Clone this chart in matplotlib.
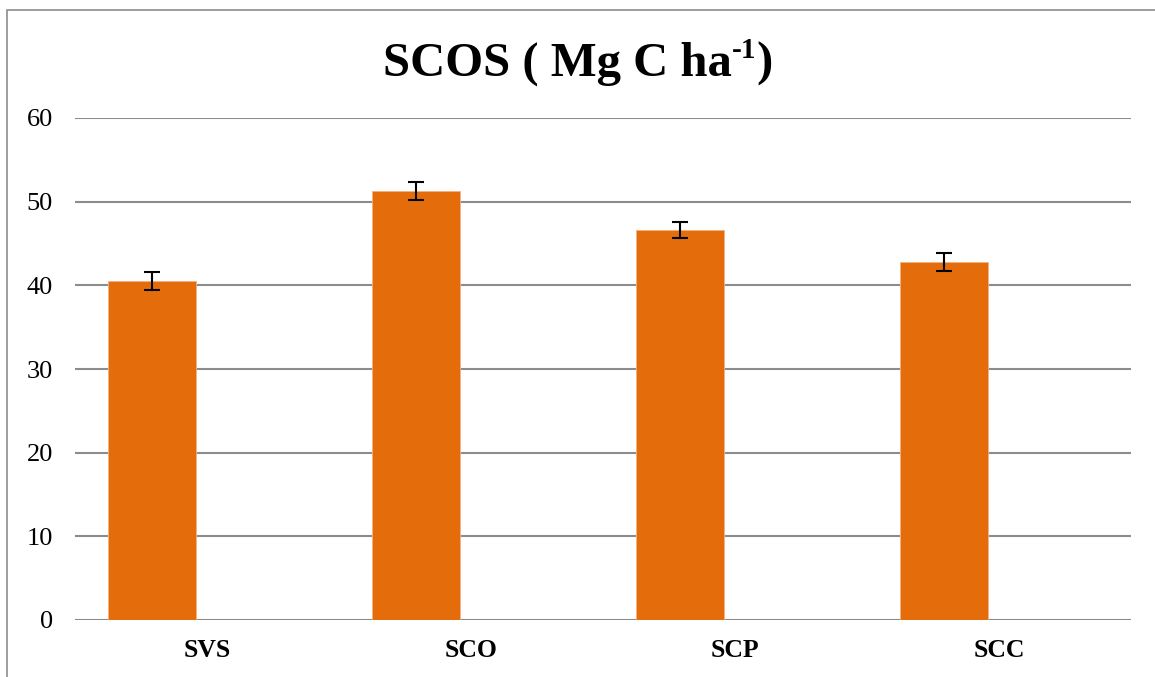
import numpy as np
import matplotlib
matplotlib.use("Agg")
import matplotlib.pyplot as plt
from matplotlib.patches import Rectangle

categories = ["SVS", "SCO", "SCP", "SCC"]
scos = [40.5, 51.3, 46.6, 42.8]
scos_err = [1.05, 1.05, 1.0, 1.05]
yticks = [0, 10, 20, 30, 40, 50, 60]

plt.rcParams['font.family'] = ['Liberation Serif', 'DejaVu Serif']

fig = plt.figure(figsize=(11.55, 6.77), dpi=100)
W, H = 1155, 677
ax = fig.add_axes([75 / W, 1 - 620 / H, (1131 - 75) / W, (620 - 118) / H])

# chart border (only left/top visible in the cropped screenshot)
fig.patches.append(Rectangle((7 / W, -0.1), 1.2, 1 - 10 / H + 0.1, transform=fig.transFigure,
                             fill=False, edgecolor="#8c8c8c", linewidth=1.2))

x = np.arange(len(categories))
ax.bar(x - 0.208, scos, width=0.333, color="#E46C0A", edgecolor="#F4B183", linewidth=0.6,
       yerr=scos_err, error_kw=dict(ecolor="black", elinewidth=1.5, capsize=6, capthick=1.5),
       zorder=3)

ax.set_xlim(-0.5, len(categories) - 0.5)
ax.set_ylim(0, 60)
ax.set_yticks(yticks)
ax.set_yticklabels([str(v) for v in yticks], fontsize=19)
ax.set_xticks(x)
ax.set_xticklabels(categories, fontsize=18.5, fontweight="bold")
ax.tick_params(axis="y", length=0, pad=16)
ax.tick_params(axis="x", length=0, pad=14)
ax.yaxis.grid(True, color="#8c8c8c", linewidth=1.5, zorder=0)
ax.set_axisbelow(True)
for s in ax.spines.values():
    s.set_visible(False)

# title with small superscript
title = fig.text(557 / W, 1 - 76 / H, "SCOS ( Mg C ha", fontsize=35,
                 fontweight="bold", ha="center", va="baseline")
fig.canvas.draw()
bb = title.get_window_extent()
sup = fig.text(bb.x1 / W, 1 - 58 / H, "-1", fontsize=21, fontweight="bold",
               ha="left", va="baseline")
fig.canvas.draw()
bb2 = sup.get_window_extent()
fig.text(bb2.x1 / W, 1 - 76 / H, ")", fontsize=35, fontweight="bold",
         ha="left", va="baseline")

fig.savefig("out.png", dpi=100)
